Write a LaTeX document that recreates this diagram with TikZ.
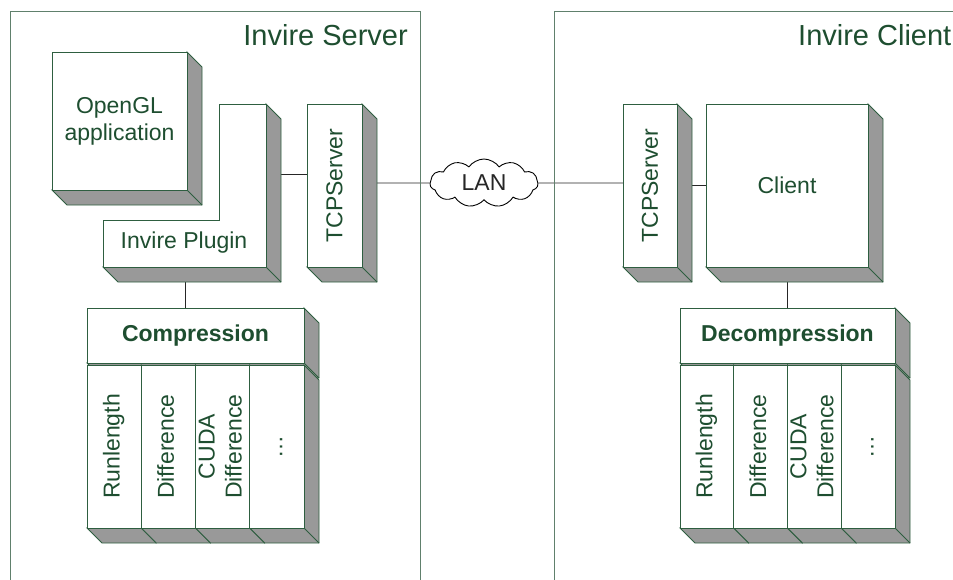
\documentclass[tikz,border=0pt]{standalone}
\usepackage{fontspec}
\setmainfont{Liberation Sans}
\usepackage{graphicx}
\usetikzlibrary{calc,shapes.symbols}
\definecolor{boxline}{RGB}{46,94,64}
\definecolor{boxtext}{RGB}{30,78,48}
\definecolor{frameline}{RGB}{96,128,108}
\definecolor{shadegray}{RGB}{153,153,153}
\pgfdeclarelayer{background}
\pgfdeclarelayer{shadow}
\pgfsetlayers{background,shadow,main}
\tikzset{
  box/.style={draw=boxline,fill=white,text=boxtext,inner sep=0pt,outer sep=0pt,line width=0.9pt,font=\fontsize{23}{27}\selectfont},
  side/.style={draw=boxline,fill=shadegray,line width=0.9pt},
  frame/.style={draw=frameline,line width=0.9pt},
  title/.style={text=boxtext,inner sep=0pt,font=\fontsize{29}{32}\selectfont},
  link/.style={draw=black!85,line width=0.8pt}
}
\newcommand\extrude[1]{%
  \filldraw[side] (#1.north east) -- ++(15,15) -- ($(#1.south east)+(15,15)$)
    -- ($(#1.south west)+(15,15)$) -- (#1.south west) -- (#1.south east) -- cycle;
  \draw[side] (#1.south east) -- ++(15,15);}
\newcommand\vtext[1]{\rotatebox{90}{\begin{tabular}{@{}c@{}}#1\end{tabular}}}
\begin{document}
\begin{tikzpicture}[x=1pt,y=-1pt]
\useasboundingbox (0,0) rectangle (953,579);
\draw[frame] (10,11) rectangle (420,600);
\draw[frame] (554,11) rectangle (1000,600);
\node[title,anchor=base east] (srvtitle) at (408,45) {Invire Server};
\node[title,anchor=base west] (clttitle) at (798,45) {Invire Client};

\node[box,minimum width=135pt,minimum height=138pt,align=center] (gl) at (119.5,121) {OpenGL\\application};
\filldraw[box] (219,104) -- (266,104) -- (266,267) -- (103,267) -- (103,220) -- (219,220) -- cycle;
\node[text=boxtext,font=\fontsize{23}{27}\selectfont] (plugin) at (184,243) {Invire Plugin};
\coordinate (plugr) at (266,174);
\coordinate (plugb) at (185,267);
\node[box,minimum width=55pt,minimum height=163pt] (tcps) at (334.5,185.5) {\rotatebox{90}{TCPServer}};
\node[cloud,draw=black,fill=white,text=black!85,cloud puffs=11,cloud puff arc=110,aspect=2.4,inner sep=0pt,line width=0.9pt,
  minimum width=108pt,minimum height=48pt,font=\fontsize{23}{27}\selectfont] (lan) at (484,183) {LAN};
\node[box,minimum width=54pt,minimum height=163pt] (tcpc) at (650,185.5) {\rotatebox{90}{TCPServer}};
\node[box,minimum width=162pt,minimum height=163pt] (client) at (787,185.5) {Client};

\node[box,minimum width=217pt,minimum height=55pt,font=\fontsize{23}{27}\selectfont\bfseries] (comp) at (195.5,335.5) {Compression};
\node[box,minimum width=215pt,minimum height=55pt,font=\fontsize{23}{27}\selectfont\bfseries] (decomp) at (787.5,335.5) {Decompression};
\foreach \i/\t in {1/Runlength,2/Difference,3/{CUDA\\Difference},4/\dots} {
  \node[box,minimum width=54.25pt,minimum height=163pt] (c\i) at (87+54.25*\i-27.125,446.5) {\vtext{\t}};
  \node[box,minimum width=53.75pt,minimum height=163pt] (d\i) at (680+53.75*\i-26.875,446.5) {\vtext{\t}};
}

\begin{pgfonlayer}{shadow}
\filldraw[side] (266,104) -- (281,119) -- (281,282) -- (118,282) -- (103,267) -- (266,267) -- cycle;
\draw[side] (266,267) -- (281,282);
\foreach \n in {gl,tcps,tcpc,client,comp,decomp,c1,c2,c3,c4,d1,d2,d3,d4} \extrude{\n};
\end{pgfonlayer}

\begin{pgfonlayer}{background}
\draw[link] (plugr) -- (plugr -| tcps);
\draw[link] (plugb) -- (plugb |- comp);
\draw[link] (lan) -- (lan -| tcps);
\draw[link] (lan) -- (lan -| tcpc);
\draw[link] (tcpc) -- (client);
\draw[link] (client) -- (client |- decomp);
\end{pgfonlayer}
\end{tikzpicture}
\end{document}
